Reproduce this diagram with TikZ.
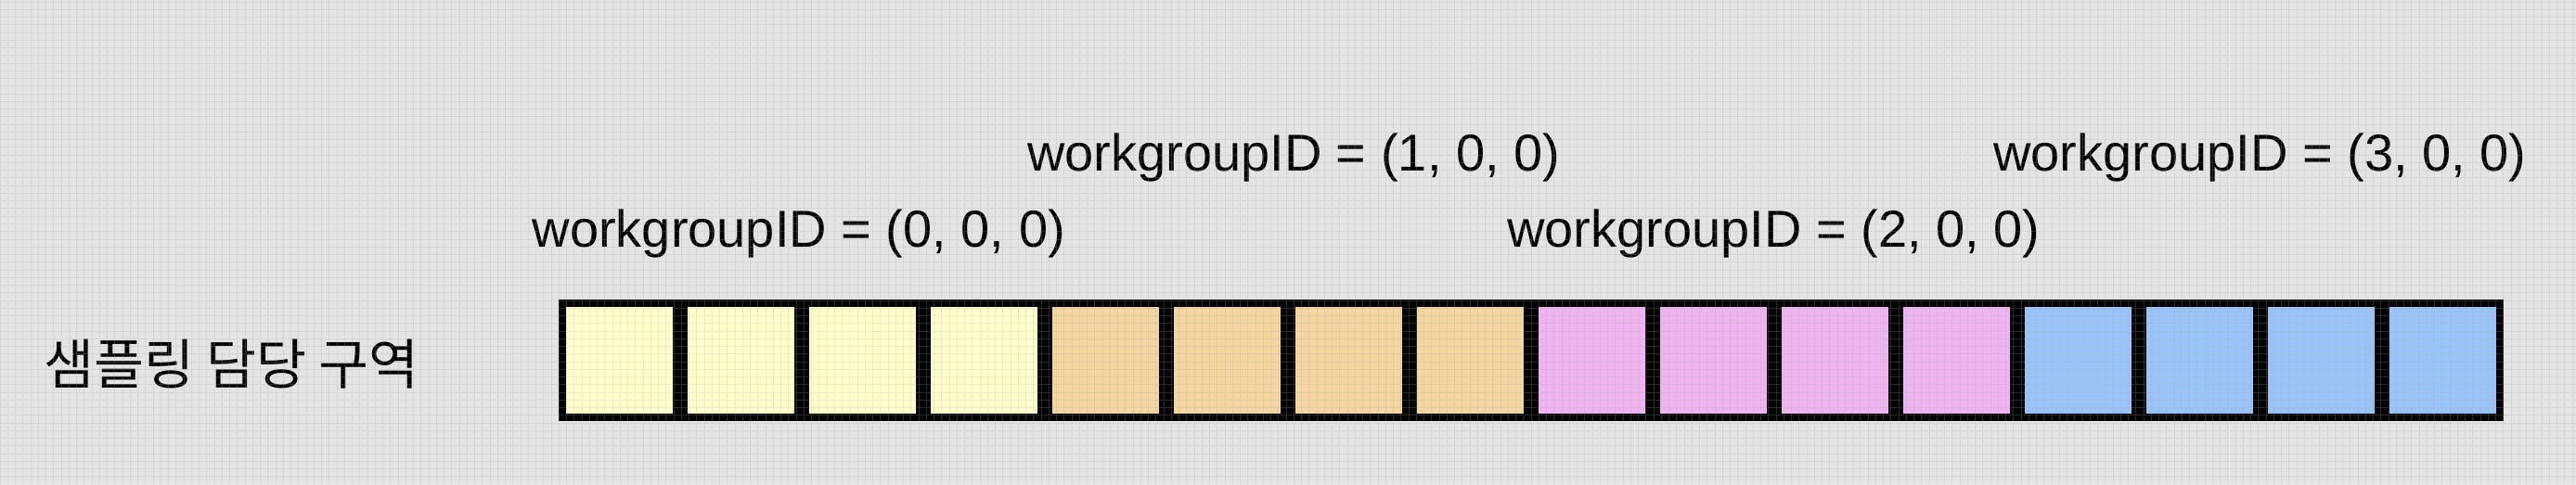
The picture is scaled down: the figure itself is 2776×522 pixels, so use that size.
\documentclass[tikz,border=0pt]{standalone}
\usepackage{fontspec}
\setmainfont{Liberation Sans}
\newfontfamily\kofont{Noto Sans CJK KR}
\usetikzlibrary{positioning}
\definecolor{bggray}{RGB}{228,228,228}
\definecolor{gridgray}{RGB}{172,172,172}
\definecolor{wgyellow}{RGB}{255,255,204}
\definecolor{wgorange}{RGB}{245,213,160}
\definecolor{wgpink}{RGB}{241,180,243}
\definecolor{wgblue}{RGB}{152,196,247}
\tikzstyle{cell} = [rectangle, draw=black, line width=6pt, minimum size=92.25pt, inner sep=0pt]
\tikzstyle{wglabel} = [font=\fontsize{42}{50}\selectfont, inner sep=0pt]
\tikzstyle{overlay} = [draw=gridgray, line width=0.75pt, opacity=0.25, step=6.1875pt]

\begin{document}
\begin{tikzpicture}[x=0.75pt, y=0.75pt]
	\fill[bggray] (0,0) rectangle (2776,522);
	\useasboundingbox (0,0) rectangle (2776,522);

	\node[cell, fill=wgyellow] (c1) at (667,133.5) {};
	\foreach \i/\j/\col in {2/1/wgyellow, 3/2/wgyellow, 4/3/wgyellow,
		5/4/wgorange, 6/5/wgorange, 7/6/wgorange, 8/7/wgorange,
		9/8/wgpink, 10/9/wgpink, 11/10/wgpink, 12/11/wgpink,
		13/12/wgblue, 14/13/wgblue, 15/14/wgblue, 16/15/wgblue}
		\node[cell, fill=\col, right=0pt of c\j] (c\i) {};

	\node[wglabel, above=42.75pt of c2.north east, anchor=base, xshift=-2pt] (wg0) {workgroupID = (0, 0, 0)};
	\node[wglabel, above=103.5pt of c6.north east, anchor=base, xshift=5pt] (wg1) {workgroupID = (1, 0, 0)};
	\node[wglabel, above=42.75pt of c10.north east, anchor=base, xshift=0pt] (wg2) {workgroupID = (2, 0, 0)};
	\node[wglabel, above=103.5pt of c14.north east, anchor=base, xshift=0pt] (wg3) {workgroupID = (3, 0, 0)};

	\node[font=\kofont\fontsize{44}{52}\selectfont, inner sep=0pt, left=112pt of c1, yshift=-3pt] (area) {샘플링 담당 구역};

	\draw[overlay] (0,0) grid (2776,522);
\end{tikzpicture}
\end{document}
